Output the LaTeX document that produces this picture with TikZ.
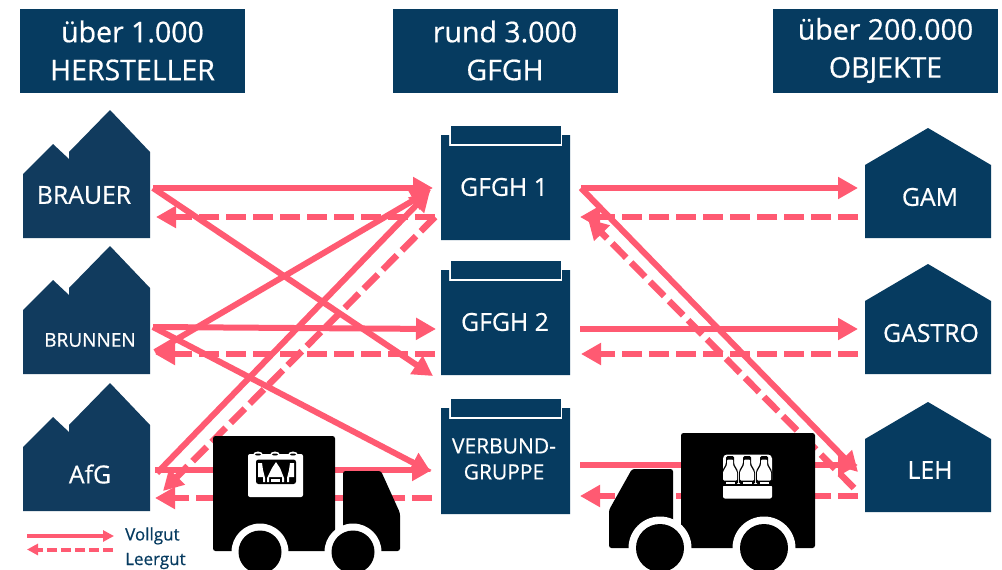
\documentclass[tikz,border=0pt]{standalone}
\usepackage{fontspec}
\setmainfont{Open Sans}[FakeBold=0.6]
\usetikzlibrary{arrows.meta}
\definecolor{navy}{HTML}{063B60}
\definecolor{navyb}{HTML}{113B5E}
\definecolor{pinkc}{HTML}{FF5A72}
\tikzset{
  x=1pt,y=-1pt,
  header/.style={fill=navy,text=white,minimum width=225pt,minimum height=84pt,align=center,inner sep=0pt,font=\fontsize{28.5}{38}\selectfont},
  lbl/.style={text=white,inner sep=0pt,font=\fontsize{24.8}{28}\selectfont,align=center},
  full/.style={draw=pinkc,line width=6.5pt,-{Triangle[length=20pt,width=21pt]}},
  thin/.style={draw=pinkc,line width=6pt,-{Triangle[length=20pt,width=21pt]}},
  empty/.style={draw=pinkc,line width=6.5pt,dash pattern=on 20pt off 7pt,-{Triangle[length=20pt,width=21pt]}},
  legf/.style={draw=pinkc,line width=4pt,-{Triangle[length=11pt,width=11pt]}},
  lege/.style={draw=pinkc,line width=4pt,dash pattern=on 10pt off 4pt,-{Triangle[length=11pt,width=11pt]}},
  legt/.style={text=navy,inner sep=0pt,anchor=west,font=\fontsize{17}{18}\selectfont},
}
\newcommand{\factory}[1]{\fill[navyb,shift={(0,#1)}] (23,174)--(53,144)--(69,159)--(69,152)--(110,110)--(150,152)--(150,238)--(23,238)--cycle;}
\newcommand{\house}[1]{\fill[navy,shift={(0,#1)}] (865,165)--(928,128)--(991,165)--(991,238)--(865,238)--cycle;}
\newcommand{\depot}[2]{\fill[navy] (441,#1)--(449,#1)--(449,#1+11)--(562,#1+11)--(562,#1)--(570,#1)--(570,#2)--(441,#2)--cycle;
  \fill[navy] (450.5,#1-9) rectangle (560.5,#1+9);}
\begin{document}
\begin{tikzpicture}
\useasboundingbox (0,0) rectangle (1002,570);
\fill[white] (0,0) rectangle (1002,570);
% headers
\node[header] (h1) at (132.5,50.5) {über 1.000\\HERSTELLER};
\node[header] (h2) at (505,50.5) {rund 3.000\\GFGH};
\node[header] (h3) at (885.5,50.5) {über 200.000\\OBJEKTE};
% shapes
\factory{0}\factory{136}\factory{273}
\house{0}\house{136}\house{274}
\depot{135}{240}\depot{270}{375}\depot{408}{514}
% labels
\node[lbl] (brauer) at (84,195) {BRAUER};
\node[lbl,font=\fontsize{19}{22}\selectfont] (brunnen) at (90,340) {BRUNNEN};
\node[lbl] (afg) at (90,474) {AfG};
\node[lbl] (g1) at (504,187) {GFGH 1};
\node[lbl] (g2) at (505,322) {GFGH 2};
\node[lbl,font=\fontsize{21}{26}\selectfont] (vg) at (504,459) {VERBUND-\\GRUPPE};
\node[lbl] (gam) at (930,197) {GAM};
\node[lbl] (gastro) at (931,333) {GASTRO};
\node[lbl] (leh) at (930,470) {LEH};
% connector ends
\coordinate (bo) at (153,188); \coordinate (bi) at (156,217);
\coordinate (ro) at (153,327); \coordinate (ri) at (155,354); \coordinate (rx) at (155,352);
\coordinate (ao) at (155,470); \coordinate (ax) at (157,473); \coordinate (ai) at (155,498); \coordinate (ad) at (163,491);
\coordinate (g1w) at (433,188); \coordinate (g1a) at (431,190); \coordinate (g1b) at (430,191); \coordinate (g1d) at (435,217);
\coordinate (g2w) at (436,329); \coordinate (g2d) at (435,354); \coordinate (g2x) at (433,376);
\coordinate (vw) at (432,470); \coordinate (vd) at (432,498); \coordinate (vx) at (431,472);
\coordinate (g1e) at (581,188); \coordinate (g1f) at (580,217); \coordinate (g1h) at (588,219);
\coordinate (g2e) at (580,329); \coordinate (g2f) at (581,354);
\coordinate (ve) at (580,465); \coordinate (vf) at (580,496);
\coordinate (gamw) at (858,188); \coordinate (gamd) at (858,217);
\coordinate (gasw) at (858,329); \coordinate (gasd) at (858,354);
\coordinate (lehw) at (858,465); \coordinate (lehd) at (858,496); \coordinate (lehx) at (858,472); \coordinate (lehy) at (854,488);
% connectors
\draw[full] (bo)--(g1w);
\draw[empty] (g1d)--(bi);
\draw[thin] (bo)--(g2x);
\draw[thin] (ro)--(g2w);
\draw[empty] (g2d)--(ri);
\draw[thin] (rx)--(g1a);
\draw[thin] (ax)--(g1b);
\draw[empty] (g1d)--(ad);
\draw[thin] (ro)--(vx);
\draw[full] (ao)--(vw);
\draw[empty] (vd)--(ai);
\draw[full] (g1e)--(gamw);
\draw[empty] (gamd)--(g1f);
\draw[full] (g2e)--(gasw);
\draw[empty] (gasd)--(g2f);
\draw[full] (ve)--(lehw);
\draw[empty] (lehd)--(vf);
\draw[thin] (g1e)--(lehx);
\draw[empty] (lehy)--(g1h);
% truck left
\fill[black,rounded corners=2.5pt] (213,436) rectangle (335,551);
\fill[black,rounded corners=2.5pt] (343,551)--(343,471)--(381,471)--(400,513)--(400,551)--cycle;
\fill[white] (260,552) circle (28.5);
\fill[white] (353,552) circle (28.5);
\fill[white] (335,530) rectangle (343,551);
\fill[black] (260,552) circle (21.5);
\fill[black] (353,552) circle (21.5);
\fill[white,rounded corners=2pt] (248,454) rectangle (303,497);
\foreach \x in {258,275,293}{\fill[white] (\x,455) ellipse (5 and 3.5);\fill[black] (\x,454.5) ellipse (3 and 1);}
\fill[black,rounded corners=2.5pt] (256,459.5) rectangle (296,484);
\begin{scope}[white]
\fill (258,463)--(262,463)--(263,470)--(265,478)--(265,482)--(263,482)--(263,477)--(258,477)--cycle;
\fill (276,462)--(280,468)--(284,478)--(284,482)--(282,482)--(282,477)--(269,477)--(269,482)--(267,482)--(267,478)--(272,468)--cycle;
\fill (294,463)--(290,463)--(289,470)--(287,478)--(287,482)--(289,482)--(289,477)--(294,477)--cycle;
\fill (271,478.5) rectangle (280,482);
\end{scope}
% truck right
\fill[black,rounded corners=2.5pt] (681,433) rectangle (815,548);
\fill[black,rounded corners=2.5pt] (673,548)--(673,469)--(632,469)--(609,510)--(609,548)--cycle;
\fill[white] (660,548) circle (31.5);
\fill[white] (764,548) circle (31.5);
\fill[white] (673,525) rectangle (681,548);
\fill[black] (660,548) circle (24);
\fill[black] (764,548) circle (24);
\fill[white,rounded corners=2pt] (723,485) rectangle (772,498.5);
\fill[white,rounded corners=4pt] (723,454.5) rectangle (772,484);
\foreach \x in {730,747,764}{
  \fill[black,rounded corners=1.5pt] (\x-8,484)--(\x-8,471)--(\x-4,464)--(\x-4,456)--(\x+4,456)--(\x+4,464)--(\x+8,471)--(\x+8,484)--cycle;
  \fill[white,rounded corners=1pt] (\x-7,480.5)--(\x-7,472)--(\x-3,465)--(\x-3,459.5)--(\x+3,459.5)--(\x+3,465)--(\x+7,472)--(\x+7,480.5)--cycle;
  \fill[white] (\x-4.5,481.5) rectangle (\x+4.5,484);
}
\fill[black] (723,484) rectangle (772,485.5);
% legend
\coordinate (l1a) at (27,536); \coordinate (l1b) at (114,536);
\coordinate (l2a) at (113,549.5); \coordinate (l2b) at (27,549.5);
\draw[legf] (l1a)--(l1b);
\draw[lege] (l2a)--(l2b);
\node[legt] (voll) at (125,536) {Vollgut};
\node[legt] (leer) at (125,561) {Leergut};
\end{tikzpicture}
\end{document}
